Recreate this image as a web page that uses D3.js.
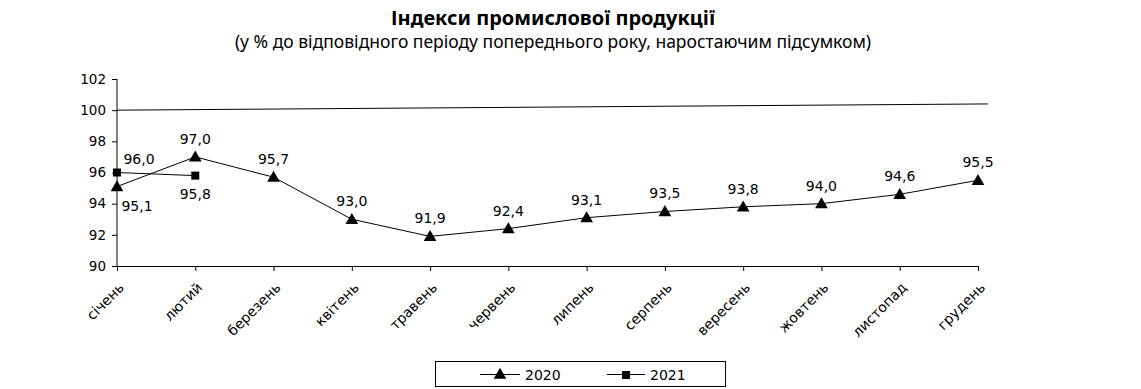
<!DOCTYPE html>
<html lang="uk">
<head>
    <meta charset="UTF-8">
    <title>Індекси промислової продукції</title>
    <script src="https://d3js.org/d3.v7.min.js"></script>
    <style>
        body { margin: 0; background: #fff; }
        text { font-family: "DejaVu Sans", Verdana, sans-serif; fill: #000; }
        .ttl { font-family: "Noto Sans", "Open Sans", sans-serif; }
    </style>
</head>
<body>
<div id="chart"></div>
<script>
    // дані
    var months = ["січень", "лютий", "березень", "квітень", "травень", "червень",
                  "липень", "серпень", "вересень", "жовтень", "листопад", "грудень"];
    var values2020 = [95.1, 97.0, 95.7, 93.0, 91.9, 92.4, 93.1, 93.5, 93.8, 94.0, 94.6, 95.5];
    var values2021 = [96.0, 95.8];
    var yTicks = [90, 92, 94, 96, 98, 100, 102];
    var refLine = [100, 100.4]; // лінія 100% (в оригіналі трохи нахилена)

    var W = 1141, H = 389;
    var mLeft = 117, mRight = 978, mTop = 79, mBottom = 266;

    var svg = d3.select("#chart").append("svg")
        .attr("width", W)
        .attr("height", H);

    var x = d3.scalePoint().domain(months).range([mLeft, mRight]);
    var y = d3.scaleLinear().domain([90, 102]).range([mBottom, mTop]);

    // заголовок
    svg.append("text").attr("class", "ttl")
        .attr("x", 553).attr("y", 25)
        .attr("text-anchor", "middle")
        .style("font-size", "20px").style("font-weight", "bold")
        .text("Індекси промислової продукції");
    svg.append("text").attr("class", "ttl")
        .attr("x", 553).attr("y", 48)
        .attr("text-anchor", "middle")
        .style("font-size", "17.5px")
        .text("(у % до відповідного періоду попереднього року, наростаючим підсумком)");

    // вісь Y
    var yAxis = svg.append("g")
        .attr("transform", "translate(" + mLeft + ",0)")
        .call(d3.axisLeft(y).tickValues(yTicks).tickSize(5).tickPadding(6).tickFormat(d3.format("d")));
    yAxis.selectAll("text").style("font-size", "13.5px");

    // вісь X
    var xAxis = svg.append("g")
        .attr("transform", "translate(0," + mBottom + ")")
        .call(d3.axisBottom(x).tickSize(5).tickSizeOuter(0));
    xAxis.selectAll("text")
        .style("font-size", "14px")
        .attr("text-anchor", "end")
        .attr("x", 0).attr("y", 0).attr("dy", "0.35em")
        .attr("transform", "translate(4,19) rotate(-45)");
    svg.selectAll(".domain, .tick line").attr("stroke", "#000");
    yAxis.select(".domain").attr("d", "M0," + mTop + "V" + mBottom);

    // лінія 100
    svg.append("line")
        .attr("x1", mLeft).attr("x2", 988)
        .attr("y1", y(refLine[0])).attr("y2", y(refLine[1]))
        .attr("stroke", "#000").attr("stroke-width", 1);

    var line = d3.line()
        .x(function(d, i) { return x(months[i]); })
        .y(function(d) { return y(d); });

    svg.append("path").datum(values2020)
        .attr("d", line).attr("fill", "none").attr("stroke", "#000").attr("stroke-width", 1);
    svg.append("path").datum(values2021)
        .attr("d", line).attr("fill", "none").attr("stroke", "#000").attr("stroke-width", 1);

    var tri = d3.symbol().type(d3.symbolTriangle).size(70);
    svg.selectAll(".p2020").data(values2020).enter()
        .append("path")
        .attr("d", tri)
        .attr("transform", function(d, i) { return "translate(" + x(months[i]) + "," + (y(d) + 1) + ")"; })
        .attr("fill", "#000");

    svg.selectAll(".p2021").data(values2021).enter()
        .append("rect")
        .attr("x", function(d, i) { return x(months[i]) - 4; })
        .attr("y", function(d) { return y(d) - 4; })
        .attr("width", 8).attr("height", 8)
        .attr("fill", "#000");

    var fmt = function(d) { return d.toFixed(1).replace(".", ","); };

    // підписи 2020
    svg.selectAll(".l2020").data(values2020).enter()
        .append("text")
        .style("font-size", "14px")
        .attr("text-anchor", "middle")
        .attr("x", function(d, i) { return x(months[i]) + (i === 0 ? 20 : 0); })
        .attr("y", function(d, i) { return i === 0 ? y(d) + 24 : y(d) - 13; })
        .text(fmt);

    // підписи 2021
    svg.selectAll(".l2021").data(values2021).enter()
        .append("text")
        .style("font-size", "14px")
        .attr("text-anchor", "middle")
        .attr("x", function(d, i) { return x(months[i]) + (i === 0 ? 22 : 0); })
        .attr("y", function(d, i) { return i === 0 ? y(d) - 9 : y(d) + 23; })
        .text(fmt);

    // легенда
    var lg = svg.append("g");
    lg.append("rect")
        .attr("x", 435.5).attr("y", 361.5).attr("width", 290).attr("height", 25)
        .attr("fill", "#fff").attr("stroke", "#000");
    lg.append("line").attr("x1", 480).attr("x2", 520).attr("y1", 374.5).attr("y2", 374.5).attr("stroke", "#000");
    lg.append("path").attr("d", tri).attr("transform", "translate(500,375)");
    lg.append("text").attr("x", 525).attr("y", 380).style("font-size", "14px").text("2020");
    lg.append("line").attr("x1", 607).attr("x2", 645).attr("y1", 374.5).attr("y2", 374.5).attr("stroke", "#000");
    lg.append("rect").attr("x", 622).attr("y", 371).attr("width", 8).attr("height", 8);
    lg.append("text").attr("x", 650).attr("y", 380).style("font-size", "14px").text("2021");
</script>
</body>
</html>
